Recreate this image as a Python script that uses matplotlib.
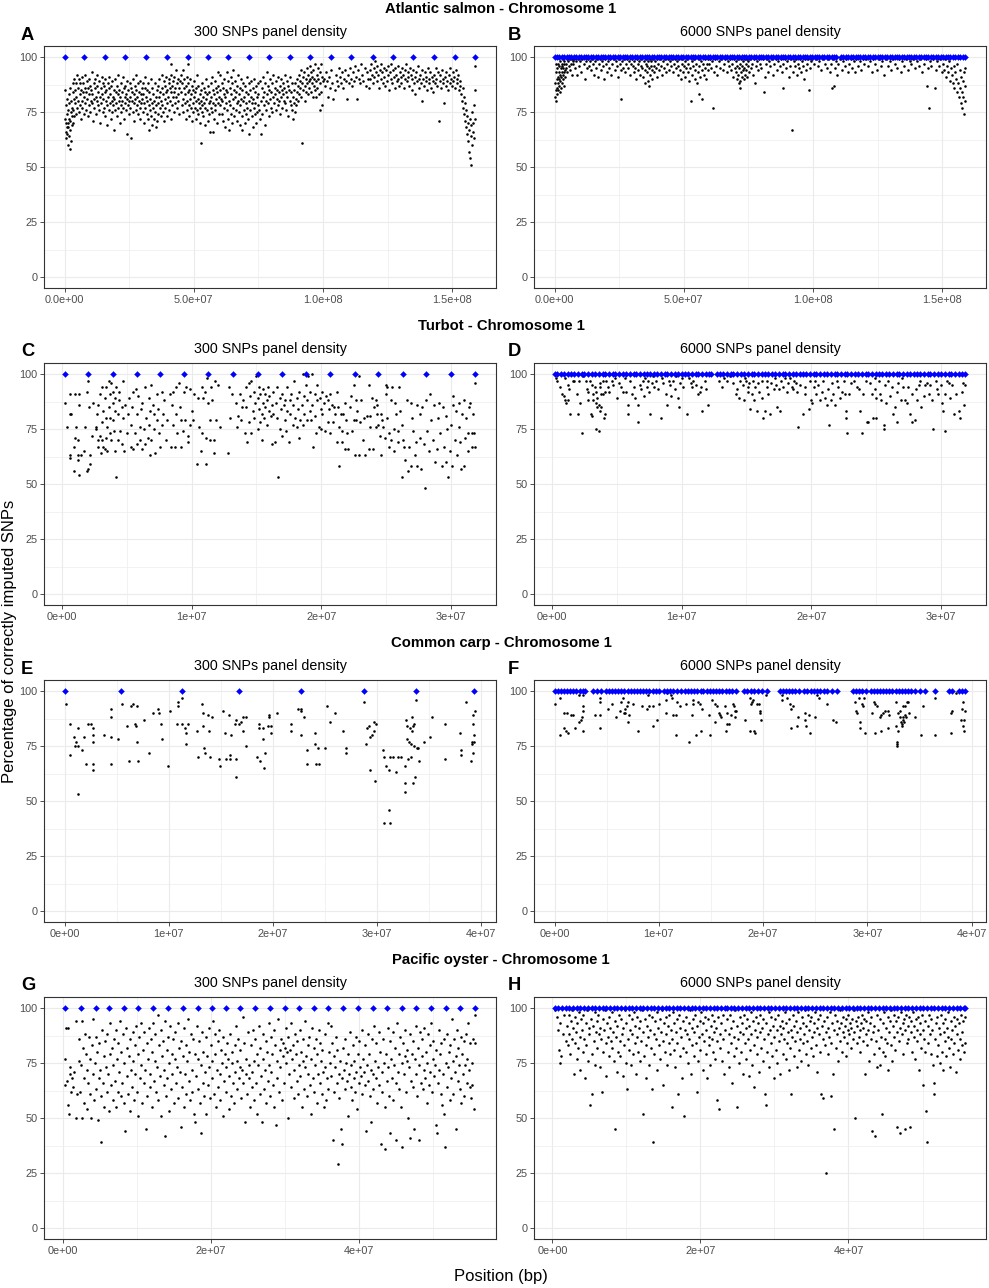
import matplotlib
matplotlib.use("Agg")
import matplotlib.pyplot as plt

plt.rcParams['font.family'] = ['Liberation Sans', 'DejaVu Sans']

# ---------------- DATA (position in units of 100 kb, percentage) ----------------
row_titles = ["Atlantic salmon - Chromosome 1", "Turbot - Chromosome 1",
              "Common carp - Chromosome 1", "Pacific oyster - Chromosome 1"]
panel_letters = ["A", "B", "C", "D", "E", "F", "G", "H"]
panel_subtitles = ["300 SNPs panel density", "6000 SNPs panel density"]

salmon_xticks = [0, 5e7, 1e8, 1.5e8]
salmon_xticklabels = ["0.0e+00", "5.0e+07", "1.0e+08", "1.5e+08"]
turbot_xticks = [0, 1e7, 2e7, 3e7]
turbot_xticklabels = ["0e+00", "1e+07", "2e+07", "3e+07"]
carp_xticks = [0, 1e7, 2e7, 3e7, 4e7]
carp_xticklabels = ["0e+00", "1e+07", "2e+07", "3e+07", "4e+07"]
oyster_xticks = [0, 2e7, 4e7]
oyster_xticklabels = ["0e+00", "2e+07", "4e+07"]
y_ticks = [0, 25, 50, 75, 100]

# panel SNPs (always 100 %) positions
salmon300_panel = [0,77,156,235,314,397,477,555,634,714,792,871,951,1030,1109,1191,1271,1346,1429,1508,1588]
salmon6000_panel = [0,9,19,28,38,47,56,65,75,84,94,103,113,121,131,141,150,160,169,178,188,197,206,216,225,235,
    244,254,263,272,282,291,301,310,319,329,338,348,357,366,376,385,395,404,413,423,432,442,451,460,470,479,489,
    498,507,517,526,536,545,554,564,573,583,592,601,611,620,630,639,648,658,667,677,686,695,705,714,724,733,742,
    752,761,771,780,789,799,808,818,827,836,846,855,865,874,883,893,902,912,921,930,940,949,959,968,977,987,996,
    1006,1015,1024,1034,1043,1053,1062,1071,1081,1090,1108,1117,1127,1136,1145,1155,1164,1174,1183,1192,1202,
    1211,1221,1230,1239,1249,1258,1268,1277,1286,1296,1305,1315,1324,1333,1343,1352,1362,1371,1380,1390,1399,
    1409,1418,1427,1437,1446,1456,1465,1474,1484,1493,1503,1512,1521,1531,1540,1550,1559,1568,1578,1588]
turbot300_panel = [2,20,39,58,76,94,113,132,151,170,188,207,226,244,263,281,300,319]
turbot6000_panel = [2,4,7,9,12,15,17,20,23,25,28,31,33,36,39,41,44,47,49,52,55,57,60,63,65,68,71,73,76,79,81,84,
    87,89,92,95,97,100,103,105,108,111,113,116,119,121,123,127,130,132,135,138,140,143,146,148,151,154,156,159,
    162,164,167,170,172,175,178,180,183,186,188,191,194,196,199,202,204,207,210,212,215,218,220,223,226,228,231,
    234,236,239,242,244,247,250,252,255,258,260,263,266,268,271,274,276,279,282,284,287,290,292,295,298,300,303,
    306,308,311,314,316,319]
carp300_panel = [0,54,113,168,227,288,338,394]
carp6000_panel = [0,3,6,9,12,15,18,21,24,27,29,37,41,45,49,52,55,58,61,64,67,70,73,76,79,82,85,88,91,94,97,100,
    105,108,111,114,117,121,125,128,131,134,137,140,142,146,149,152,155,158,161,164,167,170,174,182,185,188,191,
    195,199,204,216,219,222,225,228,231,234,239,242,246,249,252,255,258,261,266,271,286,289,292,295,299,303,306,
    309,312,315,318,321,324,327,330,333,336,339,342,346,350,355,365,378,381,388,391,394]
oyster300_panel = [3,24,44,62,82,102,122,142,162,182,201,221,240,260,280,300,319,339,359,379,399,419,438,458,
    478,498,518,537,558]
oyster6000_panel = [3,8,13,18,23,28,33,38,43,48,53,58,63,68,73,78,83,88,93,98,103,108,113,118,123,128,133,138,
    143,148,153,158,163,168,173,178,183,188,193,198,203,208,213,218,223,228,233,236,241,246,251,256,261,266,271,
    276,281,286,291,296,301,306,311,316,321,326,331,336,341,346,351,356,361,366,371,376,381,386,391,396,401,406,
    411,416,421,426,431,436,441,446,451,456,461,466,471,476,481,486,491,496,501,506,511,516,521,526,531,536,541,
    546,551,556,558]

# other SNPs: (position in 100 kb, % correctly imputed)
salmon300_snps = [(2,85),(3,72),(4,66),(5,78),(6,70),(7,63),(8,68),(9,81),(10,74),(11,65),(12,70),(13,60),(14,76),
    (15,68),(16,83),(17,72),(18,64),(19,79),(20,58),(21,71),(22,67),(23,86),(24,75),(25,62),(26,80),(27,73),(28,69),
    (30,77),(31,84),(32,70),(33,88),(34,76),(36,81),(37,73),(38,90),(40,79),(41,85),(43,74),(44,82),(46,88),(47,77),
    (49,92),(51,80),(53,86),(54,75),(56,90),(58,83),(59,78),(61,88),(63,72),(64,85),(66,80),(68,91),(69,77),(71,84),
    (73,88),(74,74),(76,82),(78,86),(79,79),(81,92),(83,76),(84,84),(86,89),(88,81),(89,73),(91,86),(93,78),(94,90),
    (96,83),(98,87),(99,75),(101,80),(103,85),(105,93),(106,79),(108,83),(110,71),(112,88),(113,81),(115,77),(117,86),
    (119,90),(120,82),(122,74),(124,87),(126,80),(127,92),(129,78),(131,84),(133,89),(134,76),(136,82),(138,70),
    (140,86),(141,79),(143,91),(145,83),(147,75),(148,88),(150,81),(152,77),(153,87),(155,84),(157,73),(158,90),
    (160,80),(162,85),(163,69),(165,78),(167,88),(168,82),(170,76),(172,86),(173,91),(175,79),(177,83),(178,72),
    (180,87),(182,80),(183,75),(185,89),(187,82),(188,78),(190,85),(192,67),(193,81),(195,90),(197,76),(198,84),
    (200,79),(202,87),(203,73),(205,83),(207,77),(208,92),(210,80),(212,85),(213,70),(215,82),(217,78),(218,88),
    (220,75),(222,84),(223,80),(225,91),(227,77),(228,86),(230,72),(232,82),(233,79),(235,87),(237,83),(238,76),
    (240,89),(242,81),(243,65),(245,78),(247,85),(248,80),(250,74),(252,88),(253,82),(255,77),(257,86),(258,63),
    (260,80),(262,84),(263,75),(265,90),(267,79),(268,83),(270,71),(272,87),(273,81),(275,76),(277,85),(278,92),
    (280,78),(282,82),(283,74),(285,88),(287,80),(288,84),(290,77),(292,89),(293,72),(295,83),(297,79),(298,86),
    (300,81),(302,75),(303,88),(305,83),(307,70),(308,79),(310,86),(312,77),(313,91),(315,82),(317,74),(318,85),
    (320,80),(322,72),(323,88),(325,78),(327,84),(328,67),(330,81),(332,76),(333,90),(335,73),(337,79),(338,86),
    (340,69),(342,77),(343,83),(345,72),(347,80),(348,88),(350,75),(352,68),(353,82),(355,78),(357,85),(358,71),
    (360,79),(362,87),(363,74),(365,82),(367,90),(368,77),(370,84),(372,73),(373,80),(375,92),(377,78),(378,86),
    (380,75),(382,83),(383,89),(385,71),(387,81),(388,87),(390,77),(392,84),(393,91),(395,79),(397,73),(398,85),
    (400,82),(402,88),(403,76),(405,90),(407,80),(408,86),(410,72),(410,97),(412,84),(413,92),(415,78),(417,87),
    (418,82),(420,89),(422,75),(423,84),(425,91),(427,79),(428,86),(430,82),(432,94),(433,77),(435,88),(437,83),
    (438,90),(440,80),(442,86),(443,74),(445,89),(450,92),(452,84),(453,78),(455,88),(457,81),(458,94),(460,75),
    (462,86),(463,90),(465,79),(467,83),(468,72),(470,87),(472,80),(473,91),(475,76),(476,97),(477,84),(478,88),
    (480,78),(482,73),(483,85),(485,81),(487,90),(488,77),(490,83),(492,71),(493,87),(495,79),(497,85),(498,75),
    (500,82),(502,89),(503,77),(505,84),(507,72),(508,80),(510,86),(512,76),(513,92),(515,81),(517,74),(518,87),
    (520,79),(522,83),(523,70),(525,77),(526,61),(527,85),(528,80),(530,75),(532,88),(533,78),(535,82),(537,73),
    (538,86),(540,79),(542,69),(543,84),(545,77),(547,81),(548,90),(550,76),(552,83),(553,71),(555,87),(557,79),
    (558,74),(560,84),(562,80),(563,66),(565,88),(567,77),(568,82),(570,75),(572,91),(573,79),(574,66),(575,85),
    (577,72),(578,83),(580,78),(582,89),(583,76),(585,81),(587,86),(588,70),(590,84),(592,93),(593,79),(595,87),
    (597,74),(598,82),(600,85),(602,78),(603,92),(605,81),(607,74),(608,88),(610,80),(612,86),(613,71),(615,83),
    (617,77),(618,90),(620,82),(622,68),(623,85),(625,79),(627,93),(628,76),(630,84),(632,72),(633,89),(635,80),
    (637,67),(638,86),(640,78),(642,91),(643,74),(645,83),(647,88),(648,70),(650,81),(652,77),(653,94),(655,85),
    (657,73),(658,82),(660,89),(662,76),(663,84),(665,79),(667,71),(668,87),(670,80),(672,92),(673,75),(675,83),
    (677,69),(678,86),(680,78),(682,90),(683,81),(685,73),(687,85),(688,67),(690,80),(692,88),(693,76),(695,82),
    (697,70),(698,87),(700,79),(702,84),(703,74),(705,91),(707,77),(708,83),(710,72),(712,88),(713,80),(715,65),
    (717,85),(718,76),(720,82),(722,89),(723,73),(725,79),(727,86),(728,68),(730,81),(732,77),(733,90),(735,74),
    (737,84),(738,79),(740,70),(742,87),(743,82),(745,75),(747,88),(748,78),(750,83),(752,76),(754,89),(756,72),
    (758,65),(760,80),(762,86),(764,74),(766,82),(768,91),(770,78),(772,84),(774,69),(776,88),(778,80),(780,76),
    (782,93),(784,83),(786,79),(788,87),(790,73),(792,85),(794,81),(796,90),(798,77),(800,84),(802,88),(804,75),
    (806,82),(808,92),(810,79),(812,86),(814,83),(816,76),(818,89),(820,81),(822,85),(824,78),(826,91),(828,84),
    (830,80),(832,87),(834,74),(836,82),(838,90),(840,85),(842,77),(844,88),(846,83),(848,80),(850,86),(852,92),
    (854,79),(856,84),(858,76),(860,89),(862,82),(864,87),(866,73),(868,85),(870,80),(872,91),(874,84),(876,78),
    (878,88),(880,76),(882,82),(884,72),(886,79),(888,85),(890,75),(892,88),(894,81),(896,78),(898,90),(900,84),
    (902,87),(904,80),(906,92),(908,83),(910,89),(912,86),(914,94),(916,82),(918,61),(920,88),(922,91),(924,85),
    (926,93),(928,87),(930,80),(932,90),(934,84),(936,95),(938,88),(940,92),(942,83),(944,89),(946,86),(948,96),
    (950,90),(952,84),(954,93),(956,88),(958,91),(960,82),(962,94),(964,87),(966,90),(968,85),(970,97),(972,89),
    (974,82),(976,92),(978,86),(980,95),(982,90),(984,83),(986,93),(987,76),(988,88),(990,97),(992,84),(994,91),
    (996,78),(998,89),(1003,90),(1007,87),(1012,93),(1016,89),(1020,82),(1024,91),(1028,86),(1032,94),(1036,88),
    (1040,81),(1044,85),(1048,92),(1052,89),(1056,87),(1060,95),(1064,91),(1068,88),(1072,93),(1076,86),(1080,90),
    (1084,94),(1088,89),(1092,81),(1096,92),(1100,88),(1104,95),(1108,90),(1112,87),(1116,93),(1120,89),(1124,96),
    (1128,91),(1132,81),(1136,94),(1140,90),(1144,88),(1148,97),(1152,92),(1156,89),(1160,95),(1164,87),(1168,93),
    (1172,90),(1176,86),(1180,94),(1183,90),(1186,97),(1189,92),(1192,88),(1195,95),(1198,91),(1201,98),(1204,93),
    (1207,89),(1210,96),(1213,92),(1216,86),(1219,94),(1222,90),(1225,97),(1228,93),(1231,88),(1234,95),(1237,91),
    (1240,87),(1243,94),(1246,89),(1249,96),(1252,92),(1255,85),(1258,93),(1261,90),(1264,97),(1267,88),(1270,94),
    (1273,91),(1276,86),(1279,95),(1282,92),(1285,89),(1288,96),(1291,90),(1294,87),(1297,93),(1300,91),(1303,88),
    (1306,95),(1309,92),(1312,86),(1315,94),(1318,90),(1321,97),(1324,89),(1327,93),(1330,91),(1333,87),(1336,95),
    (1339,92),(1342,85),(1345,90),(1348,94),(1351,88),(1354,91),(1357,83),(1360,93),(1363,89),(1366,96),(1369,90),
    (1372,86),(1375,92),(1378,88),(1381,80),(1384,94),(1387,90),(1390,87),(1393,93),(1396,89),(1399,91),(1402,85),
    (1405,95),(1408,90),(1411,88),(1414,93),(1417,86),(1420,91),(1423,89),(1426,84),(1429,92),(1432,88),(1435,95),
    (1438,90),(1441,87),(1444,93),(1447,71),(1450,89),(1453,92),(1456,86),(1459,94),(1462,90),(1465,88),(1468,79),
    (1471,91),(1474,87),(1477,93),(1480,89),(1483,85),(1486,92),(1489,88),(1492,95),(1495,90),(1498,87),(1501,93),
    (1504,89),(1507,91),(1510,86),(1513,94),(1516,90),(1519,88),(1522,92),(1525,85),(1528,89),(1531,87),(1534,83),
    (1537,80),(1539,86),(1541,77),(1543,82),(1545,74),(1547,79),(1549,71),(1551,76),(1553,68),(1555,73),(1557,65),
    (1559,70),(1561,62),(1563,67),(1565,57),(1567,72),(1569,54),(1570,64),(1572,51),(1573,69),(1575,60),(1577,75),
    (1579,66),(1581,70),(1583,63),(1585,78),(1587,72),(1588,85),(1589,96)]

salmon6000_snps = [(2,88),(3,82),(4,93),(5,85),(6,97),(7,80),(8,90),(9,86),(10,95),(11,83),(12,91),(13,88),(14,97),
    (15,85),(16,93),(17,90),(18,96),(19,87),(20,92),(21,84),(22,98),(23,89),(24,95),(25,91),(26,86),(27,97),(28,93),
    (29,88),(30,96),(31,92),(32,99),(33,90),(34,95),(35,97),(36,87),(37,93),(38,98),(40,94),(42,91),(44,97),(46,95),
    (48,99),(50,93),(52,98),(55,96),(58,99),(60,94),(63,97),(66,99),(68,92),(70,98),(73,97),(76,99),(80,95),(84,98),
    (88,92),(92,99),(96,96),(100,98),(104,93),(108,99),(112,97),(116,90),(120,98),(124,95),(128,99),(132,96),
    (136,98),(140,94),(144,99),(148,97),(152,92),(156,98),(160,95),(164,99),(168,91),(172,97),(176,99),(180,94),
    (184,98),(188,96),(192,90),(196,99),(200,97),(204,93),(208,98),(212,95),(216,99),(220,92),(224,97),(228,99),
    (232,94),(236,98),(240,96),(244,91),(248,99),(252,97),(256,94),(258,81),(260,98),(264,95),(268,99),(272,93),
    (276,97),(280,99),(284,95),(288,98),(292,92),(296,97),(300,99),(303,96),(306,93),(309,98),(312,95),(315,90),
    (318,99),(321,97),(324,94),(327,98),(330,92),(333,96),(336,99),(339,95),(342,91),(345,98),(348,94),(350,88),
    (352,97),(354,99),(356,93),(358,96),(360,89),(362,98),(364,95),(366,87),(368,99),(370,92),(372,96),(374,98),
    (376,90),(378,94),(380,99),(383,96),(386,93),(389,98),(392,95),(395,99),(398,91),(401,97),(404,94),(407,99),
    (410,96),(414,92),(418,98),(422,95),(426,99),(430,93),(434,97),(438,99),(442,94),(446,98),(450,96),(454,99),
    (458,93),(462,97),(466,99),(470,95),(473,98),(476,92),(479,96),(482,99),(485,94),(488,90),(491,97),(494,99),
    (497,93),(500,96),(503,98),(506,91),(509,95),(512,99),(515,93),(518,97),(521,89),(524,95),(527,80),(530,98),
    (533,92),(536,96),(539,99),(542,90),(545,94),(548,97),(551,88),(554,93),(557,99),(558,83),(560,96),(563,91),
    (566,98),(569,94),(572,81),(574,97),(577,92),(580,99),(583,95),(586,90),(589,97),(592,99),(595,94),(598,97),
    (602,99),(606,95),(610,98),(613,77),(616,93),(620,99),(625,96),(630,92),(635,98),(640,95),(645,99),(650,94),
    (655,97),(660,99),(665,93),(670,98),(675,96),(680,99),(684,94),(688,97),(692,91),(695,99),(698,95),(700,93),
    (702,98),(704,90),(706,96),(708,99),(710,92),(712,95),(714,88),(716,86),(717,97),(718,89),(720,93),(722,99),
    (724,91),(726,96),(728,94),(730,98),(732,90),(734,95),(736,99),(738,92),(740,97),(742,94),(744,99),(746,91),
    (748,96),(750,98),(753,93),(756,99),(760,95),(764,97),(768,92),(772,99),(774,88),(778,96),(782,98),(786,94),
    (790,99),(795,97),(800,95),(805,99),(809,84),(812,91),(816,97),(820,99),(825,93),(830,98),(835,96),(840,99),
    (845,92),(850,97),(855,99),(860,94),(865,98),(870,96),(875,99),(880,93),(882,86),(885,97),(890,99),(895,95),
    (900,98),(905,91),(910,96),(915,99),(920,67),(922,93),(926,98),(930,96),(934,99),(938,92),(942,97),(946,95),
    (950,99),(954,93),(958,98),(962,96),(966,90),(970,99),(974,94),(978,97),(982,99),(985,85),(988,95),(992,98),
    (996,99),(1003,97),(1010,99),(1017,96),(1024,98),(1031,94),(1038,99),(1045,97),(1052,95),(1058,99),(1064,93),
    (1070,97),(1073,86),(1076,99),(1080,87),(1083,95),(1088,98),(1093,92),(1098,97),(1104,99),(1110,94),(1116,98),
    (1122,96),(1128,99),(1134,93),(1140,97),(1146,99),(1152,95),(1158,98),(1162,93),(1167,99),(1173,96),(1180,98),
    (1186,94),(1192,99),(1198,97),(1205,99),(1212,96),(1219,98),(1226,93),(1233,99),(1240,97),(1247,94),(1254,99),
    (1261,96),(1268,98),(1275,92),(1282,99),(1289,96),(1296,98),(1303,94),(1310,99),(1317,97),(1324,95),(1331,99),
    (1338,93),(1345,98),(1352,96),(1359,99),(1366,94),(1373,98),(1380,97),(1387,99),(1394,95),(1401,98),(1408,96),
    (1415,99),(1422,93),(1429,97),(1436,99),(1440,87),(1443,95),(1447,77),(1450,98),(1457,96),(1464,99),(1471,86),
    (1475,94),(1480,98),(1486,96),(1492,99),(1498,93),(1502,97),(1506,94),(1510,99),(1514,91),(1518,96),(1522,93),
    (1526,98),(1530,89),(1534,95),(1537,92),(1540,88),(1543,96),(1546,86),(1549,93),(1552,90),(1555,84),(1558,97),
    (1561,88),(1563,82),(1566,94),(1568,86),(1570,79),(1572,91),(1574,84),(1576,77),(1578,89),(1580,82),(1582,74),
    (1584,93),(1586,87),(1588,80),(1589,95)]

turbot300_snps = [(2,87),(4,76),(6,82),(6,91),(6,63),(6,62),(7,82),(9,67),(9,56),(10,91),(10,71),(11,76),(12,63),
    (12,61),(12,70),(13,91),(13,54),(13,86),(15,63),(17,65),(18,76),(19,92),(19,56),(20,57),(20,97),(21,85),(22,63),
    (22,59),(23,72),(24,87),(26,76),(26,75),(27,82),(28,67),(28,70),(28,86),(29,91),(29,72),(30,64),(31,78),(31,94),
    (31,70),(32,83),(32,67),(33,89),(33,66),(34,80),(34,94),(34,71),(35,76),(35,65),(36,85),(36,97),(37,73),(37,91),
    (37,80),(38,70),(38,96),(39,87),(39,79),(39,92),(40,74),(41,83),(41,65),(41,89),(42,53),(42,94),(43,82),(43,70),
    (44,88),(44,92),(45,74),(46,68),(46,85),(47,97),(47,80),(48,65),(49,86),(50,73),(51,82),(52,89),(53,67),(53,77),
    (54,85),(55,66),(55,92),(56,73),(57,93),(58,82),(58,68),(59,90),(60,76),(60,70),(61,84),(62,66),(62,87),(63,75),
    (64,68),(64,94),(65,80),(66,71),(67,89),(67,77),(68,63),(68,83),(69,95),(69,70),(70,86),(71,75),(71,82),(72,64),
    (73,91),(73,79),(74,84),(75,73),(76,67),(77,77),(77,92),(78,82),(79,88),(80,70),(81,79),(83,91),(84,67),(85,86),
    (86,77),(86,92),(87,67),(88,82),(88,94),(89,73),(90,96),(91,85),(92,79),(92,67),(93,74),(94,92),(95,79),(96,94),
    (97,72),(97,69),(99,77),(99,93),(100,83),(101,79),(102,91),(104,59),(105,89),(106,76),(107,65),(108,73),(108,94),
    (109,89),(110,92),(111,59),(111,71),(112,98),(113,87),(114,79),(114,70),(115,94),(116,88),(117,64),(117,70),
    (118,97),(119,79),(120,95),(122,76),(128,64),(129,94),(130,80),(131,91),(134,87),(135,76),(136,81),(137,91),
    (138,79),(139,85),(140,88),(141,73),(142,94),(142,85),(143,69),(144,96),(144,78),(145,90),(146,73),(146,97),
    (147,83),(148,92),(148,80),(149,87),(150,99),(151,75),(151,89),(152,84),(152,94),(153,78),(153,91),(154,82),
    (154,70),(155,87),(155,93),(156,80),(157,85),(157,91),(158,77),(158,88),(159,94),(160,83),(160,90),(161,81),
    (162,86),(162,68),(163,92),(163,82),(164,69),(165,87),(166,94),(166,80),(167,53),(168,89),(168,75),(169,84),
    (170,91),(170,72),(171,86),(172,79),(172,88),(173,74),(174,94),(174,83),(175,69),(176,88),(176,82),(177,91),
    (178,77),(178,86),(179,97),(180,80),(181,89),(181,76),(182,84),(183,92),(183,71),(184,79),(185,86),(186,100),
    (186,77),(187,90),(187,82),(188,95),(189,79),(189,88),(190,99),(191,83),(191,92),(192,79),(193,100),(193,86),
    (194,67),(195,91),(195,81),(196,73),(197,88),(197,95),(198,76),(199,89),(200,84),(200,75),(201,92),(201,82),
    (202,87),(203,74),(204,90),(205,78),(205,88),(206,84),(207,91),(207,73),(208,86),(209,78),(210,85),(211,82),
    (212,92),(212,69),(213,85),(214,58),(214,76),(215,82),(216,74),(216,69),(217,82),(218,87),(218,66),(219,79),
    (220,73),(221,66),(222,85),(223,90),(224,74),(225,79),(225,95),(226,63),(227,88),(227,79),(228,83),(229,63),
    (229,99),(230,78),(231,88),(232,70),(233,80),(234,63),(235,81),(237,95),(237,66),(238,76),(238,81),(239,89),
    (240,66),(241,85),(242,76),(242,88),(243,82),(243,86),(244,77),(245,72),(246,82),(246,63),(247,79),(248,76),
    (249,71),(250,91),(250,95),(251,94),(251,80),(252,67),(252,73),(254,88),(254,70),(255,94),(256,65),(256,75),
    (257,87),(258,82),(259,74),(259,69),(260,94),(261,83),(262,53),(262,77),(263,70),(264,67),(265,61),(266,88),
    (267,56),(268,67),(269,87),(269,58),(270,80),(271,74),(272,63),(273,69),(274,58),(274,86),(276,82),(276,71),
    (277,57),(278,85),(279,68),(280,48),(281,88),(282,74),(283,65),(284,91),(285,79),(286,70),(287,86),(288,60),
    (289,66),(290,80),(291,87),(292,73),(293,58),(294,85),(295,67),(296,81),(296,60),(297,75),(298,53),(299,65),
    (300,77),(301,58),(302,86),(302,90),(303,70),(304,83),(305,63),(306,76),(306,87),(307,69),(308,57),(309,82),
    (310,88),(310,58),(311,71),(312,80),(313,73),(313,65),(314,85),(315,87),(316,73),(316,67),(317,82),(318,73),
    (319,96),(319,67)]

turbot6000_snps = [(3,98),(4,97),(6,94),(8,91),(9,90),(10,98),(10,88),(11,87),(12,88),(12,95),(13,93),(14,82),
    (16,97),(17,97),(19,91),(20,82),(21,97),(22,87),(23,73),(24,99),(26,97),(27,93),(28,92),(28,88),(29,97),(30,82),
    (31,81),(31,95),(32,91),(32,88),(33,94),(34,92),(34,87),(34,75),(35,89),(35,85),(36,74),(36,86),(37,96),(37,83),
    (37,94),(38,91),(38,85),(39,97),(39,91),(40,80),(41,92),(41,82),(42,97),(43,94),(44,92),(46,97),(47,95),(49,98),
    (50,89),(52,96),(53,94),(55,92),(56,98),(57,92),(59,82),(59,86),(60,97),(62,91),(63,94),(64,89),(66,86),(66,78),
    (68,95),(69,93),(70,97),(71,90),(72,98),(73,94),(74,97),(75,92),(76,82),(77,96),(78,99),(79,94),(80,97),(82,93),
    (84,80),(85,98),(86,96),(88,91),(89,86),(90,97),(91,95),(92,90),(93,97),(95,93),(96,99),(97,89),(98,85),(99,96),
    (100,98),(101,94),(104,82),(106,98),(107,96),(108,94),(109,97),(111,95),(113,91),(114,92),(115,94),(116,83),
    (118,97),(119,93),(120,86),(129,97),(131,94),(133,98),(135,97),(137,99),(140,96),(142,91),(143,93),(144,89),
    (145,97),(147,95),(148,88),(149,98),(150,97),(151,94),(151,92),(152,96),(153,84),(154,91),(155,97),(156,88),
    (157,94),(158,83),(159,96),(160,92),(162,97),(162,89),(163,80),(164,83),(166,94),(166,97),(167,91),(168,82),
    (169,96),(171,93),(172,98),(173,95),(174,85),(175,93),(176,83),(177,97),(178,94),(180,98),(181,92),(182,96),
    (184,98),(185,94),(186,93),(187,97),(188,96),(189,92),(190,76),(191,95),(194,82),(195,91),(195,94),(198,84),
    (199,97),(200,88),(201,87),(202,94),(203,97),(204,91),(205,95),(207,88),(208,92),(209,97),(211,89),(212,86),
    (213,93),(214,77),(215,88),(216,96),(217,91),(218,86),(220,97),(221,94),(222,89),(224,92),(225,97),(226,91),
    (227,83),(227,80),(228,73),(229,91),(231,96),(233,97),(235,94),(237,93),(238,83),(239,73),(240,91),(242,97),
    (243,78),(244,78),(245,96),(247,91),(248,80),(249,98),(249,93),(250,80),(250,89),(252,97),(253,91),(254,88),
    (256,75),(256,77),(257,95),(258,87),(259,97),(261,90),(262,94),(263,82),(265,85),(266,78),(266,92),(267,96),
    (269,88),(270,98),(271,94),(272,88),(274,87),(275,94),(276,82),(278,78),(278,91),(280,79),(281,93),(282,88),
    (283,95),(284,97),(285,85),(287,90),(288,95),(289,96),(291,91),(292,95),(293,88),(294,75),(296,97),(297,93),
    (298,91),(300,95),(301,87),(302,83),(303,74),(303,91),(305,97),(306,96),(307,89),(309,95),(310,82),(312,91),
    (314,83),(315,80),(316,92),(317,96),(318,86),(319,95)]

carp300_snps = [(1,94),(5,85),(5,71),(9,79),(10,75),(11,77),(13,75),(13,83),(13,53),(17,73),(19,79),(21,67),(23,85),
    (25,85),(27,67),(27,64),(27,83),(27,80),(27,77),(38,80),(45,92),(45,88),(45,79),(45,67),(51,78),(55,94),(60,84),
    (62,68),(64,93),(66,94),(68,85),(69,84),(70,93),(70,77),(71,68),(76,87),(81,72),(85,90),(90,92),(91,90),(93,85),
    (94,78),(99,66),(101,91),(108,85),(109,93),(109,95),(113,97),(113,85),(116,83),(117,81),(117,76),(119,85),
    (127,82),(128,70),(132,94),(133,90),(133,84),(134,74),(135,72),(138,89),(139,82),(140,70),(142,88),(148,69),
    (149,66),(152,91),(154,81),(155,69),(158,89),(159,71),(159,69),(160,80),(164,85),(165,87),(165,69),(165,61),
    (168,85),(170,86),(172,82),(172,88),(174,88),(174,75),(185,70),(187,85),(187,83),(188,68),(191,83),(191,78),
    (192,65),(193,72),(196,84),(197,89),(197,88),(198,84),(198,81),(204,90),(218,85),(218,82),(224,92),(227,92),
    (227,91),(227,80),(230,88),(233,73),(233,67),(241,81),(241,76),(242,67),(244,74),(245,67),(250,74),(252,93),
    (255,86),(260,90),(268,82),(271,74),(271,72),(288,95),(290,76),(291,83),(293,84),(294,64),(294,79),(296,80),
    (297,86),(297,82),(298,59),(299,85),(306,73),(307,70),(307,40),(309,66),(312,64),(312,46),(313,40),(313,70),
    (316,70),(319,63),(321,70),(323,70),(327,66),(327,58),(327,54),(328,87),(329,78),(329,84),(330,69),(331,77),
    (332,83),(333,70),(333,76),(334,88),(334,82),(335,84),(335,58),(336,85),(336,75),(337,61),(338,96),(339,74),
    (340,74),(341,68),(346,77),(351,79),(353,88),(366,85),(366,69),(380,81),(381,73),(381,71),(386,95),(391,68),
    (392,77),(392,76),(393,85),(393,89),(393,72),(394,80),(394,77),(395,91)]

carp6000_snps = [(0,94),(5,80),(5,97),(9,90),(9,83),(11,82),(12,90),(13,81),(16,89),(18,89),(20,83),(23,98),(23,86),
    (25,87),(26,88),(27,93),(27,98),(27,91),(27,82),(39,89),(44,97),(44,95),(44,89),(44,83),(51,92),(55,94),(59,88),
    (63,91),(64,95),(66,97),(67,90),(68,92),(69,93),(68,90),(70,86),(71,89),(70,95),(75,94),(80,82),(84,93),(89,92),
    (90,98),(91,93),(94,93),(94,84),(98,87),(100,94),(107,96),(107,90),(108,99),(112,98),(113,97),(114,89),(116,89),
    (116,80),(117,95),(120,93),(126,94),(129,77),(132,89),(133,96),(133,94),(136,80),(138,95),(139,94),(140,82),
    (141,92),(148,89),(149,80),(151,96),(154,94),(154,86),(156,93),(158,90),(159,89),(160,88),(163,93),(164,82),
    (165,85),(165,90),(167,85),(169,89),(171,94),(172,93),(173,91),(173,88),(174,91),(183,87),(187,97),(187,82),
    (188,94),(189,95),(190,96),(191,82),(192,81),(194,94),(196,94),(197,91),(197,90),(198,87),(203,98),(218,98),
    (218,96),(223,97),(226,94),(227,92),(229,93),(227,83),(232,84),(233,88),(240,90),(240,87),(241,84),(244,89),
    (245,81),(250,88),(252,98),(254,97),(261,94),(267,87),(270,86),(288,95),(289,91),(290,90),(292,97),(293,86),
    (293,83),(295,94),(296,93),(297,97),(298,81),(304,90),(306,95),(307,81),(307,94),(309,93),(312,88),(313,82),
    (313,89),(315,90),(317,91),(320,91),(321,89),(320,83),(327,95),(327,84),(328,77),(328,76),(328,75),(329,82),
    (329,90),(331,88),(331,91),(332,86),(333,84),(333,85),(334,93),(334,87),(334,88),(335,86),(336,93),(336,89),
    (337,88),(338,95),(339,95),(340,90),(346,88),(351,80),(353,93),(365,97),(365,80),(380,81),(380,90),(381,91),
    (385,99),(390,87),(391,92),(392,84),(392,95),(393,82),(393,87),(394,91)]

oyster300_snps = [(2,77),(3,65),(4,91),(5,67),(6,56),(7,91),(8,52),(9,70),(10,73),(11,62),(12,68),(14,64),(15,71),
    (17,50),(18,94),(19,61),(21,76),(22,86),(23,62),(24,74),(25,50),(26,94),(27,82),(28,68),(29,57),(30,88),(31,79),
    (32,54),(33,72),(34,66),(35,87),(36,61),(37,77),(38,50),(39,83),(40,70),(41,95),(42,58),(43,75),(44,87),(45,63),
    (46,80),(47,49),(48,68),(49,84),(50,72),(51,60),(52,39),(53,90),(54,66),(55,78),(56,55),(57,85),(58,73),(59,62),
    (60,88),(61,70),(62,53),(63,79),(64,93),(65,65),(66,82),(67,58),(68,74),(69,86),(70,67),(71,55),(72,90),(73,77),
    (74,62),(75,84),(76,71),(77,94),(78,60),(79,80),(80,66),(81,88),(82,57),(83,75),(84,44),(85,91),(86,69),(87,82),
    (88,61),(89,78),(90,53),(91,86),(92,72),(93,64),(94,89),(95,76),(96,58),(97,83),(98,70),(99,92),(100,62),
    (101,79),(102,51),(103,87),(104,68),(105,74),(106,93),(107,57),(108,81),(109,66),(110,89),(111,72),(112,45),
    (113,84),(114,60),(115,77),(116,91),(117,64),(118,70),(119,86),(120,55),(121,80),(122,93),(123,67),(124,76),
    (125,88),(126,62),(127,73),(128,97),(129,58),(130,83),(131,69),(132,90),(133,51),(134,78),(135,85),(136,65),
    (137,72),(138,42),(138,94),(139,60),(140,81),(141,68),(142,87),(143,53),(144,75),(145,92),(146,63),(147,79),
    (148,70),(149,86),(150,57),(151,77),(152,89),(153,66),(154,73),(155,93),(156,59),(157,82),(158,71),(159,46),
    (160,85),(161,64),(162,78),(163,91),(164,55),(165,70),(166,83),(167,61),(168,76),(169,95),(170,67),(171,80),
    (172,58),(173,88),(174,72),(175,62),(176,86),(177,52),(178,79),(179,48),(180,69),(181,92),(182,63),(183,77),
    (184,85),(185,57),(186,74),(187,43),(188,89),(189,66),(190,80),(191,60),(192,71),(193,87),(194,52),(195,78),
    (196,65),(197,91),(198,73),(199,59),(200,83),(201,68),(202,76),(203,94),(204,61),(205,79),(206,88),(207,55),
    (208,72),(209,85),(210,64),(211,90),(212,70),(213,58),(214,81),(215,75),(216,51),(217,87),(218,67),(219,79),
    (220,73),(221,62),(222,84),(223,77),(224,54),(225,69),(226,88),(227,60),(228,75),(229,80),(230,66),(231,57),
    (232,83),(233,71),(234,92),(235,63),(236,76),(237,86),(238,68),(239,73),(240,81),(241,59),(242,72),(243,96),
    (244,66),(245,84),(246,48),(247,70),(248,77),(249,61),(250,89),(251,68),(252,74),(253,55),(254,83),(255,71),
    (256,64),(257,90),(258,58),(259,76),(260,86),(261,66),(262,79),(263,52),(264,74),(265,92),(266,61),(267,82),
    (268,69),(269,48),(270,77),(271,88),(272,63),(273,72),(274,85),(275,57),(276,80),(277,67),(278,93),(279,74),
    (280,60),(281,87),(282,71),(283,79),(284,65),(285,90),(286,55),(287,83),(288,47),(289,76),(290,68),(291,95),
    (292,62),(293,81),(294,73),(295,86),(296,58),(297,78),(298,84),(299,66),(300,82),(301,91),(302,75),(303,80),
    (304,50),(305,87),(306,70),(307,81),(308,64),(309,93),(310,77),(311,83),(312,59),(313,72),(314,88),(315,79),
    (316,67),(317,85),(318,61),(319,74),(320,90),(321,69),(322,80),(323,55),(324,76),(325,86),(326,63),(327,73),
    (328,94),(329,78),(330,60),(331,83),(332,70),(333,87),(334,65),(335,52),(336,77),(337,91),(338,68),(339,82),
    (340,62),(341,74),(342,86),(343,79),(344,57),(345,70),(346,90),(347,66),(348,84),(349,76),(350,61),(351,81),
    (352,71),(353,55),(354,88),(355,73),(356,58),(357,68),(358,63),(359,93),(360,80),(361,75),(362,92),(363,69),
    (364,84),(365,40),(366,78),(367,62),(368,73),(369,87),(370,66),(371,81),(372,29),(373,70),(374,59),(375,76),
    (376,45),(377,68),(378,38),(379,82),(380,72),(381,63),(382,86),(383,75),(384,67),(385,79),(386,51),(387,70),
    (388,89),(389,64),(390,74),(391,58),(392,83),(393,68),(394,76),(395,62),(396,87),(397,71),(398,54),(399,79),
    (400,66),(401,85),(402,73),(403,69),(404,90),(405,61),(406,77),(407,71),(408,65),(409,83),(410,44),(411,74),
    (412,88),(413,67),(414,79),(415,60),(416,48),(417,72),(418,86),(419,70),(420,63),(421,92),(422,76),(423,68),
    (424,84),(425,57),(426,73),(427,89),(428,65),(429,80),(430,38),(431,71),(432,62),(433,86),(434,75),(435,55),
    (436,36),(437,79),(438,67),(439,91),(440,73),(441,60),(442,85),(443,43),(444,77),(445,68),(446,89),(447,58),
    (448,74),(449,82),(450,40),(451,66),(452,93),(453,71),(454,79),(455,63),(456,87),(457,55),(458,75),(459,37),
    (460,84),(461,70),(462,78),(463,90),(464,62),(465,76),(466,81),(467,50),(468,73),(469,88),(470,41),(471,67),
    (472,79),(473,85),(474,64),(475,45),(476,77),(477,92),(478,70),(479,60),(480,82),(481,40),(482,74),(483,89),
    (484,66),(485,78),(486,86),(487,63),(488,72),(489,91),(490,68),(491,80),(492,57),(493,75),(494,88),(495,65),
    (496,83),(497,71),(498,93),(499,62),(500,77),(501,85),(502,69),(503,74),(504,47),(505,81),(506,43),(507,66),
    (508,90),(509,72),(510,79),(511,61),(512,84),(513,56),(514,70),(515,52),(516,86),(517,37),(518,75),(519,64),
    (520,88),(521,73),(522,80),(523,58),(524,83),(525,68),(526,95),(527,76),(528,61),(529,86),(530,71),(531,78),
    (532,45),(533,90),(534,67),(535,82),(536,74),(537,63),(538,87),(539,57),(540,79),(541,70),(542,85),(543,60),
    (544,74),(545,88),(546,66),(547,77),(548,93),(549,72),(550,64),(551,84),(552,59),(553,75),(554,65),(555,86),
    (556,54),(557,97),(558,84)]

oyster6000_snps = [(4,99),(6,96),(8,90),(9,81),(10,75),(11,93),(12,78),(14,88),(16,97),(18,85),(20,92),(21,83),
    (22,97),(23,88),(24,79),(25,94),(26,86),(27,99),(28,91),(29,70),(30,84),(31,96),(32,89),(33,77),(34,93),(35,82),
    (36,98),(37,87),(38,72),(39,95),(40,90),(41,80),(42,97),(43,86),(44,68),(45,93),(46,83),(47,99),(48,76),(49,91),
    (50,88),(51,56),(52,95),(53,79),(54,61),(55,92),(56,85),(57,98),(58,74),(59,89),(60,94),(61,82),(62,97),(63,88),
    (64,73),(65,91),(66,86),(67,62),(68,95),(69,80),(70,90),(71,99),(72,84),(73,69),(74,93),(75,87),(76,96),(77,78),
    (78,91),(79,85),(80,98),(81,82),(82,89),(83,76),(84,45),(85,94),(86,87),(87,71),(88,92),(89,80),(90,97),(91,85),
    (92,78),(93,95),(94,88),(95,69),(96,91),(97,83),(98,99),(99,75),(100,93),(101,63),(102,86),(103,97),(104,81),
    (105,90),(106,74),(107,95),(108,88),(109,79),(110,98),(111,84),(112,92),(113,70),(114,87),(115,96),(116,80),
    (117,91),(118,76),(119,94),(120,85),(121,99),(122,52),(123,89),(124,78),(125,95),(126,83),(127,68),(128,92),
    (129,87),(130,97),(131,74),(132,90),(133,82),(134,96),(135,63),(136,39),(137,88),(138,79),(139,94),(140,86),
    (141,98),(142,72),(143,91),(144,83),(145,95),(146,77),(147,89),(148,99),(149,85),(150,65),(151,93),(152,80),
    (153,96),(154,88),(155,74),(156,92),(157,84),(158,97),(159,79),(160,90),(161,55),(162,86),(163,98),(164,81),
    (165,93),(166,73),(167,89),(168,95),(169,84),(170,61),(171,97),(172,78),(173,91),(174,87),(175,68),(176,94),
    (177,82),(178,51),(179,90),(180,96),(181,80),(182,88),(183,75),(184,93),(185,86),(186,99),(187,70),(188,91),
    (189,83),(190,95),(191,78),(192,89),(193,97),(194,84),(195,62),(196,92),(197,76),(198,87),(199,94),(200,81),
    (201,98),(202,88),(203,72),(204,93),(205,85),(206,96),(207,79),(208,90),(209,68),(210,95),(211,83),(212,87),
    (213,74),(214,92),(215,86),(216,97),(217,80),(218,89),(219,94),(220,77),(221,91),(222,85),(223,58),(224,96),
    (225,54),(226,88),(227,82),(228,93),(229,76),(230,97),(231,86),(232,70),(233,90),(236,95),(237,80),(238,88),
    (239,73),(240,97),(241,84),(242,91),(243,66),(244,94),(245,78),(246,87),(247,99),(248,82),(249,55),(250,92),
    (251,86),(252,75),(253,96),(254,89),(255,80),(256,93),(257,70),(258,88),(259,97),(260,84),(261,91),(262,77),
    (263,95),(264,86),(265,69),(266,92),(267,81),(268,98),(269,88),(270,74),(271,94),(272,83),(273,64),(274,90),
    (275,96),(276,79),(277,87),(278,93),(279,71),(280,89),(281,97),(282,82),(283,91),(284,76),(285,95),(286,86),
    (287,61),(288,56),(289,93),(290,80),(291,88),(292,98),(293,73),(294,90),(295,84),(296,96),(297,78),(298,92),
    (299,68),(300,87),(301,95),(302,81),(303,90),(304,75),(305,97),(306,85),(307,92),(308,70),(309,88),(310,94),
    (311,79),(312,91),(313,86),(314,98),(315,77),(316,93),(317,84),(318,89),(319,72),(320,95),(321,82),(322,90),
    (323,61),(324,87),(325,97),(326,78),(327,92),(328,85),(329,94),(330,73),(331,89),(332,98),(333,81),(334,91),
    (335,86),(336,76),(337,96),(338,84),(339,93),(340,88),(341,99),(342,79),(343,92),(344,85),(345,97),(346,74),
    (347,90),(348,94),(349,82),(350,96),(351,87),(352,78),(353,93),(354,89),(355,98),(356,83),(357,91),(358,71),
    (359,95),(360,88),(361,97),(362,80),(363,61),(364,92),(365,86),(366,59),(367,94),(368,83),(369,89),(370,25),
    (371,96),(372,79),(373,91),(374,87),(375,98),(376,60),(377,84),(378,93),(379,70),(380,45),(381,90),(382,97),
    (383,82),(384,88),(385,94),(386,76),(387,91),(388,99),(389,85),(390,93),(391,80),(392,89),(393,96),(394,87),
    (395,92),(396,78),(397,95),(398,84),(399,90),(400,97),(401,88),(402,93),(403,82),(404,91),(405,95),(406,86),
    (407,99),(408,89),(409,50),(410,94),(411,84),(412,92),(413,96),(414,87),(415,90),(416,80),(417,93),(418,97),
    (419,85),(420,91),(421,95),(422,70),(423,88),(424,94),(425,83),(426,98),(427,90),(428,76),(429,93),(430,86),
    (431,96),(432,44),(433,89),(434,79),(435,92),(436,42),(437,85),(438,97),(439,73),(440,90),(441,82),(442,95),
    (443,74),(444,87),(445,52),(446,93),(447,80),(448,98),(449,86),(450,78),(451,91),(452,84),(453,96),(454,72),
    (455,89),(456,94),(457,83),(458,99),(459,76),(460,92),(461,87),(462,97),(463,81),(464,94),(465,89),(466,46),
    (467,96),(468,85),(469,91),(470,43),(471,98),(472,88),(473,93),(474,79),(475,95),(476,45),(477,90),(478,97),
    (479,84),(480,92),(481,86),(482,96),(483,46),(484,89),(485,94),(486,80),(487,98),(488,87),(489,92),(490,77),
    (491,95),(492,85),(493,90),(494,96),(495,72),(496,88),(497,93),(498,82),(499,97),(500,65),(501,90),(502,86),
    (503,94),(504,80),(505,53),(506,39),(507,92),(508,84),(509,97),(510,88),(511,79),(512,95),(513,90),(514,74),
    (515,66),(516,61),(517,86),(518,93),(519,78),(520,96),(521,83),(522,91),(523,75),(524,88),(525,97),(526,80),
    (527,93),(528,72),(529,89),(530,85),(531,95),(532,78),(533,91),(534,87),(535,98),(536,82),(537,73),(538,94),
    (539,86),(540,90),(541,79),(542,96),(543,84),(544,92),(545,71),(546,88),(547,95),(548,81),(549,93),(550,86),
    (551,77),(552,97),(553,89),(554,83),(555,94),(556,80),(557,96),(558,84)]

# ---------------- FIGURE ----------------
W, H = 989, 1288
fig = plt.figure(figsize=(W / 100, H / 100), dpi=100)

def rect(x0, y0, x1, y1):
    return [x0 / W, 1 - y1 / H, (x1 - x0) / W, (y1 - y0) / H]

row_tops = [46, 363, 680, 997]
box_h = 242
col_x = [(44, 496), (534, 986)]
letter_x = [21, 508]

panels = [
    (salmon300_snps, salmon300_panel, salmon_xticks, salmon_xticklabels),
    (salmon6000_snps, salmon6000_panel, salmon_xticks, salmon_xticklabels),
    (turbot300_snps, turbot300_panel, turbot_xticks, turbot_xticklabels),
    (turbot6000_snps, turbot6000_panel, turbot_xticks, turbot_xticklabels),
    (carp300_snps, carp300_panel, carp_xticks, carp_xticklabels),
    (carp6000_snps, carp6000_panel, carp_xticks, carp_xticklabels),
    (oyster300_snps, oyster300_panel, oyster_xticks, oyster_xticklabels),
    (oyster6000_snps, oyster6000_panel, oyster_xticks, oyster_xticklabels),
]

grid_col = '#EBEBEB'
dark = '#333333'
tick_col = '#4D4D4D'

for i, (snps, panel_pos, xt, xtl) in enumerate(panels):
    r, c = divmod(i, 2)
    top = row_tops[r]
    x0, x1 = col_x[c]
    ax = fig.add_axes(rect(x0, top, x1, top + box_h))
    sx = [p * 1e5 for p, _ in snps]
    sy = [v for _, v in snps]
    bx = [p * 1e5 for p in panel_pos]
    ax.plot(sx, sy, ls='none', marker='o', ms=1.85, mfc='black', mec='black', mew=0, zorder=3)
    ax.plot(bx, [100] * len(bx), ls='none', marker='D', ms=3.0, mfc='#0000FF', mec='#0000FF',
            mew=0.3, zorder=4)
    allx = sx + bx
    lo, hi = min(allx), max(allx)
    pad = 0.05 * (hi - lo)
    ax.set_xlim(lo - pad, hi + pad)
    ax.set_ylim(-5, 105)
    ax.set_xticks(xt)
    ax.set_xticklabels(xtl)
    step = xt[1] - xt[0]
    minors = [xt[0] - step / 2] + [t + step / 2 for t in xt]
    minors = [m for m in minors if lo - pad < m < hi + pad]
    ax.set_xticks(minors, minor=True)
    ax.set_yticks(y_ticks)
    ax.set_yticks([12.5, 37.5, 62.5, 87.5], minor=True)
    ax.grid(which='major', color=grid_col, linewidth=0.8, zorder=0)
    ax.grid(which='minor', color=grid_col, linewidth=0.45, zorder=0)
    ax.set_axisbelow(True)
    ax.tick_params(which='major', length=2.6, width=0.6, color=dark, labelsize=7.8,
                   labelcolor=tick_col, pad=2.2)
    ax.tick_params(which='minor', length=0)
    for s in ax.spines.values():
        s.set_color(dark)
        s.set_linewidth(0.8)
    fig.text(letter_x[c] / W, 1 - (top - 6.5) / H, panel_letters[i], fontsize=13.2,
             fontweight='bold', ha='left', va='baseline')
    fig.text(((x0 + x1) / 2) / W, 1 - (top - 10) / H, panel_subtitles[c], fontsize=10.3,
             ha='center', va='baseline')

for r, title in enumerate(row_titles):
    fig.text(501 / W, 1 - (row_tops[r] - 33) / H, title, fontsize=10.7, fontweight='bold',
             ha='center', va='baseline')

fig.text(10 / W, 1 - 641 / H, "Percentage of correctly imputed SNPs", rotation=90,
         ha='center', va='center', fontsize=12)
fig.text(501 / W, 1 - 1277 / H, "Position (bp)", ha='center', va='center', fontsize=12)

fig.savefig("out.png", dpi=100)
